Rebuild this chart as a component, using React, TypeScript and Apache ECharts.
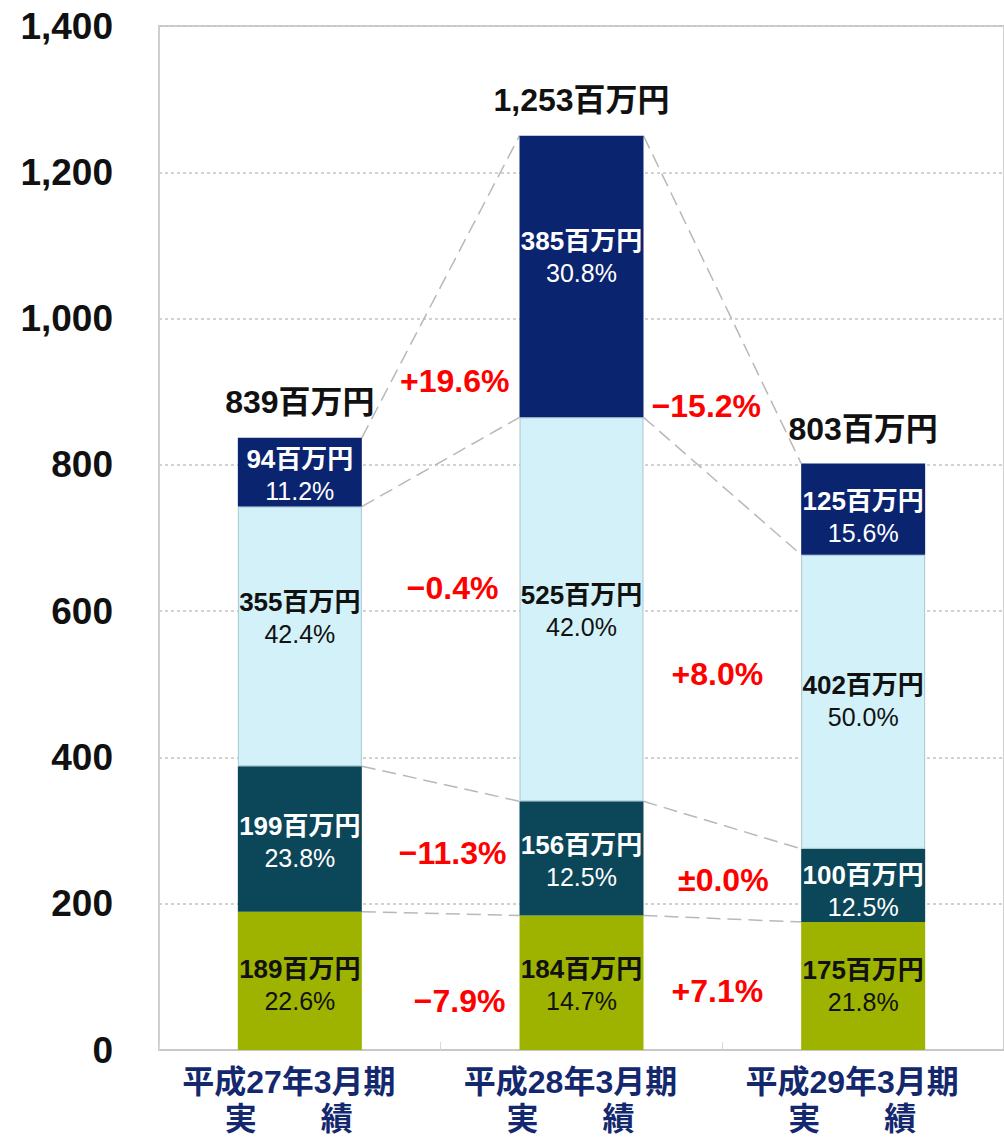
import React, { useEffect, useRef } from "react";
import * as echarts from "echarts";

// ---- data ----
const categories = ["平成27年3月期\n実　　績", "平成28年3月期\n実　　績", "平成29年3月期\n実　　績"];
const seriesNames = ["olive", "teal", "light", "navy"];
const oliveValues = [189, 184, 175];
const tealValues = [199, 156, 100];
const lightValues = [355, 525, 402];
const navyValues = [94, 385, 125];
const olivePct = ["22.6", "14.7", "21.8"];
const tealPct = ["23.8", "12.5", "12.5"];
const lightPct = ["42.4", "42.0", "50.0"];
const navyPct = ["11.2", "30.8", "15.6"];
const totals = [839, 1253, 803];
const totalLabels = ["839百万円", "1,253百万円", "803百万円"];
// change labels between year i and i+1: [gapIndex, text]
const changeGap = [0, 0, 0, 0, 1, 1, 1, 1];
const changeTexts = ["+19.6%", "−0.4%", "−11.3%", "−7.9%", "−15.2%", "+8.0%", "±0.0%", "+7.1%"];
const yTicks = [0, 200, 400, 600, 800, 1000, 1200, 1400];

// ---- layout (not data) ----
const changeAnchorY = [914, 631, 269, 67, 880, 514, 232, 81];
const changeDx = [14, 12, 12, 19, -16, -5, 1, -5];
const labelDy: number[][] = [
  [4, 2, 0],    // olive
  [3, 3, 6],    // teal
  [-18, 2, -1], // light
  [3, -20, 8],  // navy
];

const FONT = "'Liberation Sans', 'Noto Sans CJK JP', sans-serif";
const BAR_W = 124;

export default function App() {
  const ref = useRef<HTMLDivElement>(null);
  useEffect(() => {
    document.body.style.margin = "0";
    if (!ref.current) return;
    const chart = echarts.init(ref.current, undefined, { renderer: "svg" });

    const values = [oliveValues, tealValues, lightValues, navyValues];
    const pcts = [olivePct, tealPct, lightPct, navyPct];
    const colors = ["#9db300", "#0b4759", "#d3f1f8", "#0b2470"];
    const textColors = ["#111", "#fff", "#111", "#fff"];

    // cumulative boundaries per category
    const cums: number[][] = categories.map((_, i) => {
      let s = 0;
      return values.map((arr) => (s += arr[i]));
    });
    const connectorData: number[][] = [];
    for (let i = 0; i < categories.length - 1; i++) {
      for (let k = 0; k < values.length; k++) {
        connectorData.push([i, cums[i][k], cums[i + 1][k]]);
      }
    }

    const barSeries = values.map((arr, si) => ({
      name: seriesNames[si],
      type: "bar",
      stack: "total",
      barWidth: BAR_W,
      itemStyle: {
        color: colors[si],
        borderColor: si === 2 ? "#a9c6cf" : colors[si],
        borderWidth: si === 2 ? 1 : 0,
      },
      data: arr.map((v, i) => ({
        value: v,
        label: { offset: [0, labelDy[si][i]] },
      })),
      label: {
        show: true,
        position: "inside",
        color: textColors[si],
        fontFamily: FONT,
        formatter: (p: any) => `{a|${arr[p.dataIndex]}百万円}\n{b|${pcts[si][p.dataIndex]}%}`,
        rich: {
          a: { fontSize: 26, fontWeight: "bold", lineHeight: 32, fontFamily: FONT, color: textColors[si] },
          b: { fontSize: 25, fontWeight: "normal", lineHeight: 32, fontFamily: FONT, color: textColors[si] },
        },
      },
      z: 3,
    }));

    const option: any = {
      animation: false,
      grid: {
        left: 159,
        top: 26,
        width: 852,
        height: 1026,
        show: true,
        borderColor: "#cfcfcf",
        borderWidth: 2,
        backgroundColor: "transparent",
      },
      xAxis: {
        type: "category",
        data: categories,
        axisLine: { show: true, lineStyle: { color: "#c8c8c8", width: 2 } },
        axisTick: { show: true, inside: true, length: 8, lineStyle: { color: "#d8d8d8" } },
        axisLabel: {
          color: "#14286e",
          fontFamily: FONT,
          fontSize: 32,
          fontWeight: "bold",
          lineHeight: 37,
          margin: 13,
          padding: [0, 22, 0, 0],
        },
      },
      yAxis: {
        type: "value",
        min: yTicks[0],
        max: yTicks[yTicks.length - 1],
        interval: yTicks[1] - yTicks[0],
        axisLine: { show: true, lineStyle: { color: "#cfcfcf", width: 2 } },
        axisTick: { show: false },
        axisLabel: {
          color: "#111",
          fontFamily: FONT,
          fontSize: 37,
          fontWeight: "bold",
          margin: 46,
          formatter: (v: number) => v.toLocaleString("en-US"),
        },
        splitLine: { show: true, lineStyle: { color: "#c4c4c4", type: [3, 3], width: 1.5 } },
      },
      series: [
        ...barSeries,
        {
          type: "custom",
          name: "connectors",
          z: 2,
          silent: true,
          data: connectorData,
          encode: { x: 0, y: 1 },
          renderItem: (params: any, api: any) => {
            const i = api.value(0);
            const p1 = api.coord([i, api.value(1)]);
            const p2 = api.coord([i + 1, api.value(2)]);
            return {
              type: "line",
              shape: { x1: p1[0] + BAR_W / 2, y1: p1[1], x2: p2[0] - BAR_W / 2, y2: p2[1] },
              style: { stroke: "#b8b8b8", lineWidth: 1.5, lineDash: [14, 7] },
            };
          },
        },
        {
          type: "custom",
          name: "totals",
          z: 5,
          silent: true,
          data: totals.map((t, i) => [i, t]),
          encode: { x: 0, y: 1 },
          renderItem: (params: any, api: any) => {
            const p = api.coord([api.value(0), api.value(1)]);
            return {
              type: "text",
              x: p[0],
              y: p[1] - 34,
              style: {
                text: totalLabels[params.dataIndex],
                fill: "#111",
                fontFamily: FONT,
                fontSize: 32,
                fontWeight: "bold",
                align: "center",
                verticalAlign: "middle",
              },
            };
          },
        },
        {
          type: "custom",
          name: "changes",
          z: 5,
          silent: true,
          data: changeGap.map((g, k) => [g, changeAnchorY[k]]),
          encode: { x: 0, y: 1 },
          renderItem: (params: any, api: any) => {
            const k = params.dataIndex;
            const p = api.coord([api.value(0), api.value(1)]);
            const band = api.size([1, 0])[0];
            return {
              type: "text",
              x: p[0] + band / 2 + changeDx[k],
              y: p[1],
              style: {
                text: changeTexts[k],
                fill: "#ff0000",
                fontFamily: FONT,
                fontSize: 32,
                fontWeight: "bold",
                align: "center",
                verticalAlign: "middle",
              },
            };
          },
        },
      ],
    };
    chart.setOption(option);
    return () => chart.dispose();
  }, []);
  return <div ref={ref} style={{ width: 1004, height: 1137 }} />;
}
